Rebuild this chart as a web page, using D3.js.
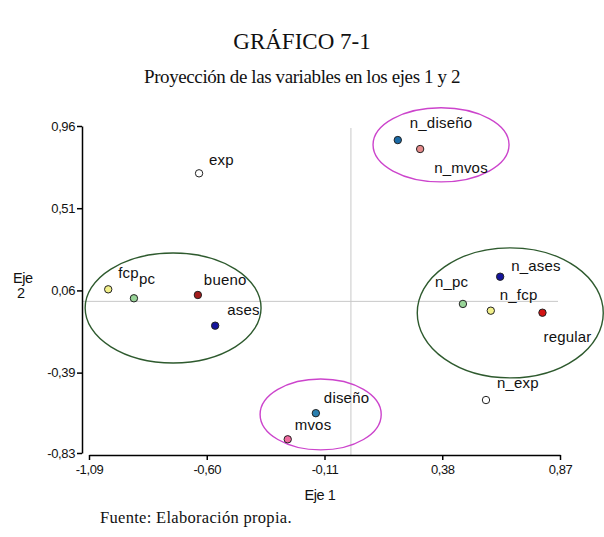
<!DOCTYPE html>
<html><head><meta charset="utf-8">
<script src="https://cdn.jsdelivr.net/npm/d3@7"></script>
<style>
html,body{margin:0;padding:0;background:#fff;}
svg{display:block;}
</style></head>
<body>
<svg id="chart" width="604" height="537"></svg>
<script>
// ---- data ----
const names   = ["exp","n_diseño","n_mvos","fcp","pc","bueno","ases","n_ases","n_pc","n_fcp","regular","n_exp","diseño","mvos"];
const eje1    = [-0.632, 0.195, 0.288, -1.010, -0.903, -0.637, -0.565, 0.621, 0.466, 0.582, 0.797, 0.562, -0.146, -0.263];
const eje2    = [0.701, 0.883, 0.834, 0.066, 0.017, 0.035, -0.133, 0.135, -0.014, -0.051, -0.062, -0.540, -0.612, -0.755];
const xTicks  = [-1.09, -0.60, -0.11, 0.38, 0.87];
const xTickLabels = ["-1,09","-0,60","-0,11","0,38","0,87"];
const yTicks  = [0.96, 0.51, 0.06, -0.39, -0.83];
const yTickLabels = ["0,96","0,51","0,06","-0,39","-0,83"];
// groups drawn as ellipses (centre and half-axes in axis units)
const groupCx = [0.375, -0.740, 0.663, -0.126];
const groupCy = [0.857, -0.036, -0.063, -0.619];
const groupRx = [0.283, 0.366, 0.387, 0.252];
const groupRy = [0.203, 0.301, 0.356, 0.194];

// ---- styles / layout ----
const pointColors = ["#ffffff","#1a6aa6","#e58a8a","#f2f08a","#98d498","#a31c1c","#14149c","#14149c","#98d498","#f2f08a","#d41414","#ffffff","#2a80b0","#f06aa0"];
const labelDx = [10, 12, 14, 10, 5, 6, 12, 11, -28, 9, 1, 11, 8, 7];
const labelDy = [-8, -12, 24, -11, -14, -10, -11, -6, -17, -11, 29, -12, -10, -9];
const groupColors = ["#cc44cc","#2e5a2e","#2e5a2e","#cc44cc"];

const svg = d3.select("#chart");
const x = d3.scaleLinear().domain([-1.09, 0.87]).range([89, 560]);
const y = d3.scaleLinear().domain([-0.83, 0.96]).range([453, 126]);
const axisFont = "'Liberation Sans', Arial, sans-serif";
const serif = "'Liberation Serif','Times New Roman',serif";

// titles
svg.append("text").attr("x", 302).attr("y", 49).attr("text-anchor","middle")
  .attr("font-family",serif).attr("font-size",23).attr("fill","#111")
  .text("GRÁFICO 7-1");
svg.append("text").attr("x", 302).attr("y", 83).attr("text-anchor","middle")
  .attr("font-family",serif).attr("font-size",19).attr("fill","#111").attr("letter-spacing",-0.4)
  .text("Proyección de las variables en los ejes 1 y 2");
svg.append("text").attr("x", 100).attr("y", 523)
  .attr("font-family",serif).attr("font-size",16.5).attr("fill","#111").attr("letter-spacing",0.3)
  .text("Fuente: Elaboración propia.");

// reference lines at 0
svg.append("line").attr("x1", 82).attr("x2", 558).attr("y1", y(0)).attr("y2", y(0))
  .attr("stroke","#c8c8c8").attr("stroke-width",1);
svg.append("line").attr("x1", x(0)).attr("x2", x(0)).attr("y1", 128).attr("y2", 455)
  .attr("stroke","#c8c8c8").attr("stroke-width",1);

// axes
const yAxis = d3.axisLeft(y).tickValues(yTicks).tickFormat((d,i)=>yTickLabels[i]).tickSize(5).tickSizeOuter(0).tickPadding(2);
const gy = svg.append("g").attr("transform","translate(82,0)").call(yAxis);
const xAxis = d3.axisBottom(x).tickValues(xTicks).tickFormat((d,i)=>xTickLabels[i]).tickSize(5).tickSizeOuter(0).tickPadding(5);
const gx = svg.append("g").attr("transform","translate(0,455)").call(xAxis);
[gx, gy].forEach(g=>{
  g.attr("font-size",13).attr("font-family",axisFont);
  g.selectAll("path.domain").attr("stroke","#000").attr("stroke-width",1.5);
  g.selectAll(".tick line").attr("stroke","#000").attr("stroke-width",1.5);
  g.selectAll("text").attr("font-family",axisFont).attr("font-size",13).attr("fill","#111").attr("letter-spacing",-0.4);
});

svg.append("text").attr("x", 320).attr("y", 500).attr("text-anchor","middle")
  .attr("font-family",axisFont).attr("font-size",14.5).attr("fill","#111").attr("letter-spacing",-0.4).text("Eje 1");
svg.append("text").attr("x", 13).attr("y", 283)
  .attr("font-family",axisFont).attr("font-size",14.5).attr("fill","#111").attr("letter-spacing",-0.4).text("Eje");
svg.append("text").attr("x", 17).attr("y", 298)
  .attr("font-family",axisFont).attr("font-size",14.5).attr("fill","#111").text("2");

// ellipses
svg.append("g").selectAll("ellipse").data(groupCx).join("ellipse")
  .attr("cx",(d,i)=>x(groupCx[i])).attr("cy",(d,i)=>y(groupCy[i]))
  .attr("rx",(d,i)=>x(groupCx[i]+groupRx[i])-x(groupCx[i]))
  .attr("ry",(d,i)=>y(groupCy[i]-groupRy[i])-y(groupCy[i]))
  .attr("fill","none").attr("stroke",(d,i)=>groupColors[i]).attr("stroke-width",1.4);

// points
const pts = svg.append("g").selectAll("g").data(names).join("g");
pts.append("circle").attr("cx",(d,i)=>x(eje1[i])).attr("cy",(d,i)=>y(eje2[i])).attr("r",3.7)
  .attr("fill",(d,i)=>pointColors[i]).attr("stroke","#222").attr("stroke-width",1);
pts.append("text").attr("x",(d,i)=>x(eje1[i])+labelDx[i]).attr("y",(d,i)=>y(eje2[i])+labelDy[i])
  .attr("font-family",axisFont).attr("font-size",15).attr("fill","#111").attr("letter-spacing",0.2)
  .text(d=>d);
</script>
</body></html>
